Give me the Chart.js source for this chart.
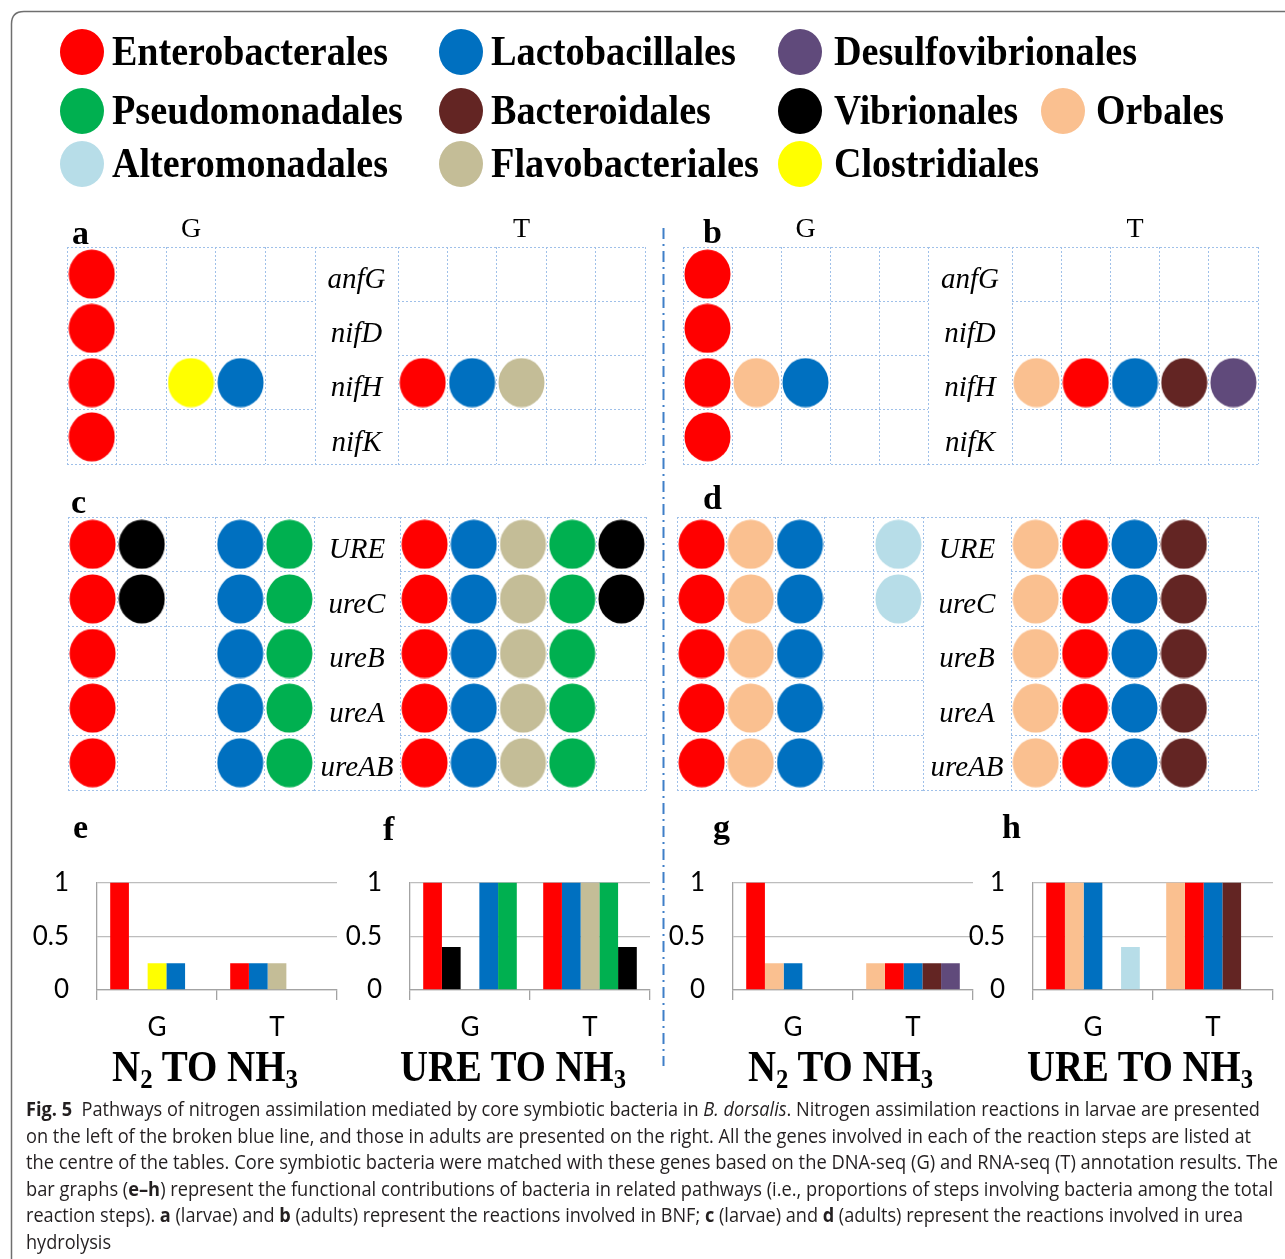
<!DOCTYPE html>
<html>
<head>
<meta charset="utf-8">
<title>Nitrogen assimilation pathways</title>
<script src="https://cdn.jsdelivr.net/npm/chart.js@4.4.1/dist/chart.umd.min.js"></script>
<style>
  html, body { margin: 0; padding: 0; background: #fff; }
  #page { position: relative; width: 1285px; height: 1259px; overflow: hidden; background: #fff; }
  #page canvas { position: absolute; }
  #overlay { position: absolute; left: 0; top: 0; pointer-events: none; }
  #overlay text { white-space: pre; }
</style>
</head>
<body>
<div id="page">
  <svg id="overlay" width="1285" height="1259" xmlns="http://www.w3.org/2000/svg"></svg>
</div>
<script>
// ---------------------------------------------------------------
// Data
// ---------------------------------------------------------------
const orders = ['Enterobacterales', 'Lactobacillales', 'Desulfovibrionales',
                'Pseudomonadales', 'Bacteroidales', 'Vibrionales', 'Orbales',
                'Alteromonadales', 'Flavobacteriales', 'Clostridiales'];
const orderColors = ['#ff0000', '#0070c0', '#604a7b',
                     '#00b050', '#632523', '#000000', '#fac090',
                     '#b7dde8', '#c4bd97', '#ffff00'];

const bnfGenes = ['anfG', 'nifD', 'nifH', 'nifK'];
const ureGenes = ['URE', 'ureC', 'ureB', 'ureA', 'ureAB'];

// Which order occupies each of the five table columns, and which genes it covers
// (rows follow the gene list; 1 = gene annotated for that order).
// a: larvae, BNF
const colsAG = ['Enterobacterales', null, 'Clostridiales', 'Lactobacillales', null];
const hitsAG = [[1,0,0,0,0], [1,0,0,0,0], [1,0,1,1,0], [1,0,0,0,0]];
const colsAT = ['Enterobacterales', 'Lactobacillales', 'Flavobacteriales', null, null];
const hitsAT = [[0,0,0,0,0], [0,0,0,0,0], [1,1,1,0,0], [0,0,0,0,0]];
// b: adults, BNF
const colsBG = ['Enterobacterales', 'Orbales', 'Lactobacillales', null, null];
const hitsBG = [[1,0,0,0,0], [1,0,0,0,0], [1,1,1,0,0], [1,0,0,0,0]];
const colsBT = ['Orbales', 'Enterobacterales', 'Lactobacillales', 'Bacteroidales', 'Desulfovibrionales'];
const hitsBT = [[0,0,0,0,0], [0,0,0,0,0], [1,1,1,1,1], [0,0,0,0,0]];
// c: larvae, urea hydrolysis
const colsCG = ['Enterobacterales', 'Vibrionales', null, 'Lactobacillales', 'Pseudomonadales'];
const hitsCG = [[1,1,0,1,1], [1,1,0,1,1], [1,0,0,1,1], [1,0,0,1,1], [1,0,0,1,1]];
const colsCT = ['Enterobacterales', 'Lactobacillales', 'Flavobacteriales', 'Pseudomonadales', 'Vibrionales'];
const hitsCT = [[1,1,1,1,1], [1,1,1,1,1], [1,1,1,1,0], [1,1,1,1,0], [1,1,1,1,0]];
// d: adults, urea hydrolysis
const colsDG = ['Enterobacterales', 'Orbales', 'Lactobacillales', null, 'Alteromonadales'];
const hitsDG = [[1,1,1,0,1], [1,1,1,0,1], [1,1,1,0,0], [1,1,1,0,0], [1,1,1,0,0]];
const colsDT = ['Orbales', 'Enterobacterales', 'Lactobacillales', 'Bacteroidales', null];
const hitsDT = [[1,1,1,1,0], [1,1,1,1,0], [1,1,1,1,0], [1,1,1,1,0], [1,1,1,1,0]];

// Functional contributions (share of reaction steps), one value per column slot
const barCategories = ['G', 'T'];
const contribE_G = [1, null, 0.25, 0.25, null];
const contribE_T = [0.25, 0.25, 0.25, null, null];
const contribF_G = [1, 0.4, null, 1, 1];
const contribF_T = [1, 1, 1, 1, 0.4];
const contribG_G = [1, 0.25, 0.25, null, null];
const contribG_T = [0.25, 0.25, 0.25, 0.25, 0.25];
const contribH_G = [1, 1, 1, null, 0.4];
const contribH_T = [1, 1, 1, 1, null];
const contribTicks = [0, 0.5, 1];
const contribTickLabels = ['0', '0.5', '1'];

// ---------------------------------------------------------------
// Styling helpers
// ---------------------------------------------------------------
const SERIF = '"Liberation Serif", "Times New Roman", serif';
const SANS = 'Lato, "Open Sans", "Liberation Sans", sans-serif';
const CAPTION_FONT = '"Liberation Sans Narrow", "Open Sans", "Liberation Sans", sans-serif';
const GRID_BLUE = '#9fc0e9';
const AXIS_GREY = '#a3a3a3';
const GRIDLINE_GREY = '#bdbdbd';

const colorOf = name => name ? orderColors[orders.indexOf(name)] : 'rgba(0,0,0,0)';

const ellipseCache = {};
function ellipseMark(color) {
  if (ellipseCache[color]) return ellipseCache[color];
  const c = document.createElement('canvas');
  c.width = 47; c.height = 50;
  const g = c.getContext('2d');
  g.fillStyle = color;
  g.beginPath();
  g.ellipse(23.5, 25, 23, 24.5, 0, 0, Math.PI * 2);
  g.fill();
  ellipseCache[color] = c;
  return c;
}

const page = document.getElementById('page');
function makeCanvas(left, top, w, h) {
  const cv = document.createElement('canvas');
  cv.width = w; cv.height = h;
  cv.style.left = left + 'px';
  cv.style.top = top + 'px';
  cv.style.width = w + 'px';
  cv.style.height = h + 'px';
  page.insertBefore(cv, document.getElementById('overlay'));
  return cv;
}

Chart.defaults.animation = false;
Chart.defaults.responsive = false;
Chart.defaults.events = [];
Chart.defaults.plugins.legend.display = false;
Chart.defaults.plugins.tooltip.enabled = false;

// ---------------------------------------------------------------
// Gene tables (panels a-d): one scatter chart per half (G / T)
// ---------------------------------------------------------------
const panelBoxes = {
  a: { g: [67, 315],  t: [398, 645],   y: [247, 464] },
  b: { g: [683, 928], t: [1012, 1258], y: [247, 464] },
  c: { g: [68, 314],  t: [400, 646],   y: [517, 790] },
  d: { g: [677, 923], t: [1011, 1258], y: [517, 790] }
};
const GENE_FONT = { family: SERIF, style: 'italic', size: 29 };

function measureWidest(labels, font) {
  const ctx = document.createElement('canvas').getContext('2d');
  ctx.font = `${font.style} ${font.size}px ${font.family}`;
  return Math.max(...labels.map(l => ctx.measureText(l).width));
}

function tableChart(x0, x1, y0, y1, genes, cols, hits, labelLeft) {
  const withLabels = labelLeft !== undefined;
  const left = withLabels ? labelLeft : x0 - 2;
  const axisW = withLabels ? x0 - labelLeft : 0;
  const cv = makeCanvas(left, y0 - 2, x1 - left + 2, y1 - y0 + 4);

  const datasets = [];
  cols.forEach((order, c) => {
    if (!order) return;
    const pts = [];
    hits.forEach((row, r) => { if (row[c]) pts.push({ x: c + 0.5, y: genes[r] }); });
    if (!pts.length) return;
    datasets.push({
      label: order,
      data: pts,
      pointStyle: ellipseMark(colorOf(order)),
      pointRadius: 24,
      showLine: false
    });
  });

  const widest = withLabels ? measureWidest(genes, GENE_FONT) : 0;

  return new Chart(cv, {
    type: 'scatter',
    data: { datasets },
    options: {
      layout: { autoPadding: false, padding: { left: withLabels ? 0 : 2, right: 2, top: 2, bottom: 2 } },
      clip: false,
      scales: {
        x: {
          type: 'linear', min: 0, max: 5, position: 'bottom',
          ticks: { display: false, stepSize: 1 },
          grid: { color: GRID_BLUE, lineWidth: 1, drawTicks: false },
          border: { display: false, dash: [2, 2] },
          afterFit: s => { s.height = 0; s.paddingLeft = 0; s.paddingRight = 0; }
        },
        y: {
          type: 'category', labels: genes, offset: true, position: 'left',
          grid: { offset: true, color: GRID_BLUE, lineWidth: 1, drawTicks: false },
          border: { display: false, dash: [2, 2] },
          ticks: {
            display: withLabels, autoSkip: false, color: '#000',
            font: GENE_FONT, crossAlign: 'center', labelOffset: 6,
            padding: (axisW - widest) / 2
          },
          // gene names sit at row centres, so no extra room is needed above/below
          afterFit: s => { s.width = axisW; s.paddingTop = 0; s.paddingBottom = 0; }
        }
      }
    }
  });
}

const tableSpecs = [
  ['a', bnfGenes, colsAG, hitsAG, colsAT, hitsAT],
  ['b', bnfGenes, colsBG, hitsBG, colsBT, hitsBT],
  ['c', ureGenes, colsCG, hitsCG, colsCT, hitsCT],
  ['d', ureGenes, colsDG, hitsDG, colsDT, hitsDT]
];
tableSpecs.forEach(([key, genes, cG, hG, cT, hT]) => {
  const P = panelBoxes[key];
  tableChart(P.g[0], P.g[1], P.y[0], P.y[1], genes, cG, hG);
  tableChart(P.t[0], P.t[1], P.y[0], P.y[1], genes, cT, hT, P.g[1]);
});

// ---------------------------------------------------------------
// Contribution bar charts (panels e-h)
// ---------------------------------------------------------------
const BAR_TOP = 859, BAR_BOTTOM = 990, BAR_W = 240;
const Y_AXIS_W = 75, X_AXIS_H = 50, PAD_TOP = 20, PAD_RIGHT = 4;
const TICK_FONT = { family: SANS, size: 26 };

function contributionChart(axisX, colsG, colsT, valsG, valsT) {
  const cv = makeCanvas(axisX - Y_AXIS_W, BAR_TOP - PAD_TOP,
                        Y_AXIS_W + BAR_W + PAD_RIGHT, PAD_TOP + (BAR_BOTTOM - BAR_TOP) + X_AXIS_H);
  const datasets = valsG.map((v, i) => ({
    label: 'slot ' + (i + 1),
    data: [v, valsT[i]],
    backgroundColor: [colorOf(colsG[i]), colorOf(colsT[i])],
    borderWidth: 0,
    barPercentage: 1,
    categoryPercentage: 0.78
  }));
  return new Chart(cv, {
    type: 'bar',
    data: { labels: barCategories, datasets },
    options: {
      layout: { padding: { top: PAD_TOP, right: PAD_RIGHT, left: 0, bottom: 0 } },
      scales: {
        x: {
          offset: true,
          grid: { offset: true, drawOnChartArea: false, drawTicks: true, tickLength: 10,
                  color: AXIS_GREY, lineWidth: 1.3 },
          border: { color: AXIS_GREY, width: 1.3 },
          ticks: { font: TICK_FONT, color: '#000', padding: 12 },
          afterFit: s => { s.height = X_AXIS_H; }
        },
        y: {
          min: 0, max: 1,
          afterBuildTicks: s => { s.ticks = contribTicks.map(v => ({ value: v })); },
          ticks: {
            font: TICK_FONT, color: '#000', padding: 28,
            callback: v => contribTickLabels[contribTicks.indexOf(v)]
          },
          grid: { color: GRIDLINE_GREY, lineWidth: 1.3, drawTicks: false },
          border: { color: AXIS_GREY, width: 1.3 },
          afterFit: s => { s.width = Y_AXIS_W; }
        }
      }
    }
  });
}

contributionChart(97,   colsAG, colsAT, contribE_G, contribE_T);
contributionChart(410,  colsCG, colsCT, contribF_G, contribF_T);
contributionChart(733,  colsBG, colsBT, contribG_G, contribG_T);
contributionChart(1033, colsDG, colsDT, contribH_G, contribH_T);

// ---------------------------------------------------------------
// Frame, legend, headings and caption (SVG layer)
// ---------------------------------------------------------------
const NS = 'http://www.w3.org/2000/svg';
const svg = document.getElementById('overlay');
function el(tag, attrs, parent) {
  const e = document.createElementNS(NS, tag);
  for (const k in attrs) e.setAttribute(k, attrs[k]);
  (parent || svg).appendChild(e);
  return e;
}
// pieces: string, or list of {t, w (weight), s (style), fs, dy}
function addText(x, y, pieces, attrs) {
  const t = el('text', Object.assign({ x, y }, attrs));
  (typeof pieces === 'string' ? [{ t: pieces }] : pieces).forEach(p => {
    const ts = el('tspan', {}, t);
    if (p.w) ts.setAttribute('font-weight', p.w);
    if (p.s) ts.setAttribute('font-style', p.s);
    if (p.fs) ts.setAttribute('font-size', p.fs);
    if (p.dy) ts.setAttribute('dy', p.dy);
    ts.textContent = p.t;
  });
  return t;
}

// outer frame (open at right and bottom)
el('path', { d: 'M11.5 1259 V24 Q11.5 11.5 24 11.5 H1285', fill: 'none', stroke: '#6f6f6f', 'stroke-width': 1.5 });

// legend: [circle cx, circle cy, text start, text end, baseline]
const legendLayout = [
  [82, 52, 112, 388, 65], [461, 52, 491, 736, 65], [800, 52, 834, 1137, 65],
  [82, 111, 112, 403, 124], [461, 111, 491, 711, 124], [800, 111, 834, 1018, 124],
  [1063, 111, 1096, 1224, 124],
  [82, 164, 112, 388, 177], [461, 164, 491, 759, 177], [800, 164, 834, 1039, 177]
];
const legendOrder = ['Enterobacterales', 'Lactobacillales', 'Desulfovibrionales',
                     'Pseudomonadales', 'Bacteroidales', 'Vibrionales', 'Orbales',
                     'Alteromonadales', 'Flavobacteriales', 'Clostridiales'];
legendOrder.forEach((name, i) => {
  const [cx, cy, tx, te, by] = legendLayout[i];
  el('ellipse', { cx, cy, rx: 22, ry: 23, fill: colorOf(name) });
  addText(tx, by, name, {
    'font-family': SERIF, 'font-weight': 'bold', 'font-size': 42, fill: '#000',
    textLength: te - tx, lengthAdjust: 'spacingAndGlyphs'
  });
});

// dash-dot separator between larvae and adults
el('line', { x1: 663.5, y1: 228, x2: 663.5, y2: 1066, stroke: '#3f7fc8', 'stroke-width': 2,
             'stroke-dasharray': '11 5 2 5' });

// panel letters
const panelLetters = [['a', 72, 244], ['b', 703, 243], ['c', 71, 513], ['d', 703, 509],
                      ['e', 73, 838], ['f', 383, 840], ['g', 713, 838], ['h', 1002, 838]];
panelLetters.forEach(([l, x, y]) => addText(x, y, l, {
  'font-family': SERIF, 'font-weight': 'bold', 'font-size': 34, fill: '#000'
}));

// G / T column headings of the BNF tables
['a', 'b'].forEach(k => {
  const P = panelBoxes[k];
  addText((P.g[0] + P.g[1]) / 2, 237, 'G', { 'font-family': SERIF, 'font-size': 28, 'text-anchor': 'middle', fill: '#000' });
  addText((P.t[0] + P.t[1]) / 2, 237, 'T', { 'font-family': SERIF, 'font-size': 28, 'text-anchor': 'middle', fill: '#000' });
});

// gene-name column borders
Object.values(panelBoxes).forEach(P => {
  [P.y[0] + 0.5, P.y[1] + 0.5].forEach(y => el('line', {
    x1: P.g[1], y1: y, x2: P.t[0], y2: y, stroke: GRID_BLUE, 'stroke-width': 1, 'stroke-dasharray': '2 2'
  }));
});

// reaction titles under the bar charts
const reactionTitles = [
  [[{ t: 'N' }, { t: '2', fs: 28, dy: 7 }, { t: ' TO NH', dy: -7 }, { t: '3', fs: 28, dy: 7 }], 112, 298],
  [[{ t: 'URE TO NH' }, { t: '3', fs: 28, dy: 7 }], 400, 626],
  [[{ t: 'N' }, { t: '2', fs: 28, dy: 7 }, { t: ' TO NH', dy: -7 }, { t: '3', fs: 28, dy: 7 }], 748, 933],
  [[{ t: 'URE TO NH' }, { t: '3', fs: 28, dy: 7 }], 1027, 1253]
];
reactionTitles.forEach(([pieces, x0, x1]) => addText(x0, 1081, pieces, {
  'font-family': SERIF, 'font-weight': 'bold', 'font-size': 44, fill: '#000',
  textLength: x1 - x0, lengthAdjust: 'spacingAndGlyphs'
}));

// caption
const captionLines = [
  [[{ t: 'Fig. 5', w: 'bold' }, { t: '  Pathways of nitrogen assimilation mediated by core symbiotic bacteria in ' },
    { t: 'B. dorsalis', s: 'italic' }, { t: '. Nitrogen assimilation reactions in larvae are presented' }], 1260],
  [[{ t: 'on the left of the broken blue line, and those in adults are presented on the right. All the genes involved in each of the reaction steps are listed at' }], 1251],
  [[{ t: 'the centre of the tables. Core symbiotic bacteria were matched with these genes based on the DNA-seq (G) and RNA-seq (T) annotation results. The' }], 1278],
  [[{ t: 'bar graphs (' }, { t: 'e\u2013h', w: 'bold' }, { t: ') represent the functional contributions of bacteria in related pathways (i.e., proportions of steps involving bacteria among the total' }], 1273],
  [[{ t: 'reaction steps). ' }, { t: 'a', w: 'bold' }, { t: ' (larvae) and ' }, { t: 'b', w: 'bold' },
    { t: ' (adults) represent the reactions involved in BNF; ' }, { t: 'c', w: 'bold' }, { t: ' (larvae) and ' },
    { t: 'd', w: 'bold' }, { t: ' (adults) represent the reactions involved in urea' }], 1243],
  [[{ t: 'hydrolysis' }], null]
];
const CAPTION_ATTRS = { 'font-family': CAPTION_FONT, 'font-size': 20, fill: '#231f20' };
let squeeze = 1;
captionLines.forEach(([pieces, xEnd], i) => {
  const t = addText(26, 1116 + i * 26.6, pieces, CAPTION_ATTRS);
  const natural = t.getComputedTextLength();
  // full lines are fitted to the column; the short closing line keeps the same squeeze
  const target = xEnd ? xEnd - 26 : natural * squeeze;
  if (xEnd) squeeze = target / natural;
  t.setAttribute('textLength', target);
  t.setAttribute('lengthAdjust', 'spacingAndGlyphs');
});
</script>
</body>
</html>
